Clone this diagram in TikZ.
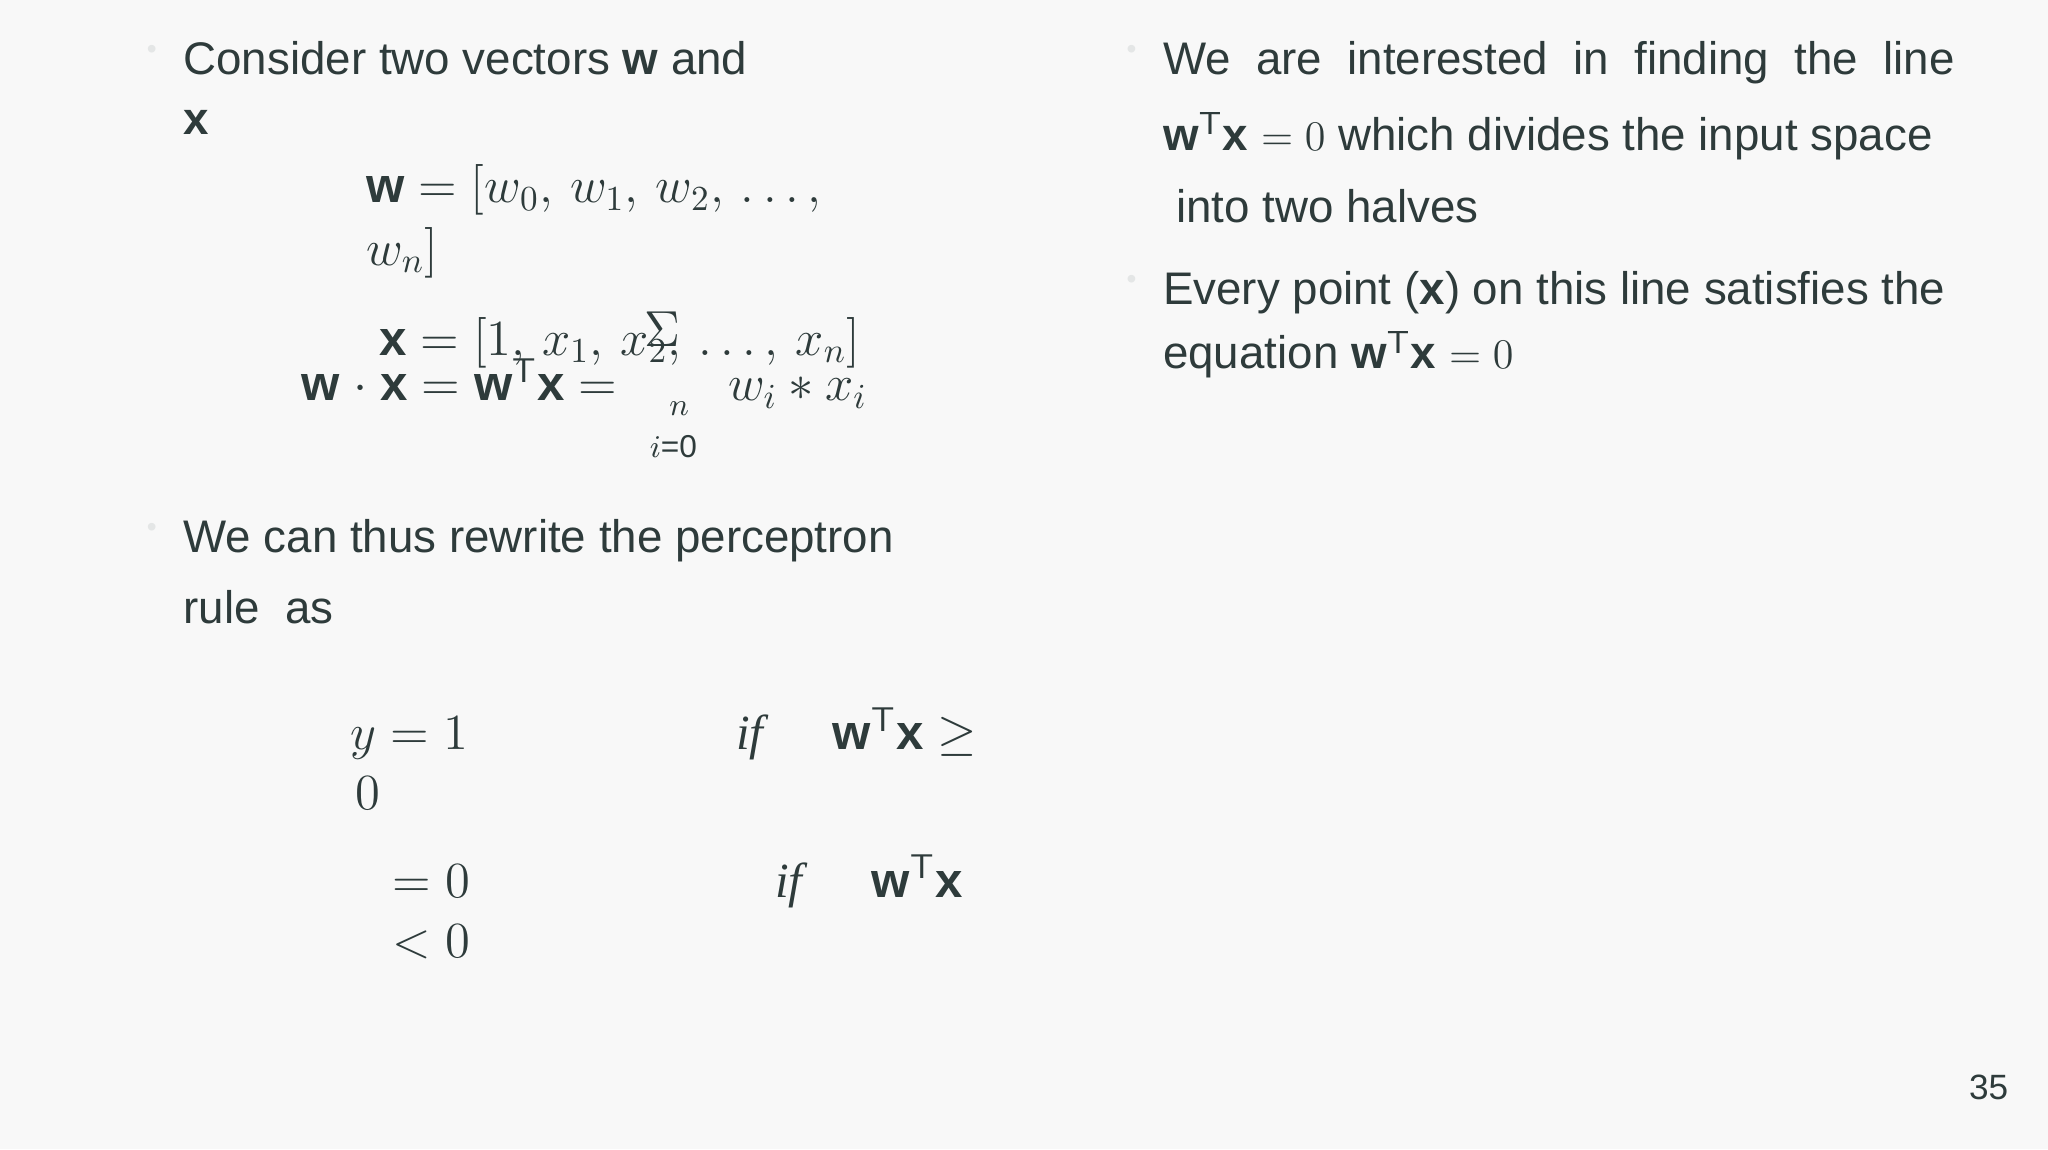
\documentclass[tikz,border=0pt]{standalone}
\usepackage{fontspec}
\setmainfont{Liberation Sans}
\newfontfamily\serifit{Liberation Serif}
\usepackage{amsmath}
\definecolor{bg}{HTML}{F8F8F8}
\definecolor{tx}{HTML}{2E3B3B}
\definecolor{bul}{HTML}{E4E6E6}
\begin{document}
\begin{tikzpicture}[x=0.01306cm,y=-0.01306cm,
  t/.style={anchor=base west,inner sep=0,text=tx,font=\fontsize{13}{15}\selectfont},
  m/.style={anchor=base west,inner sep=0,text=tx,font=\fontsize{14}{16}\selectfont},
  sm/.style={anchor=base west,inner sep=0,text=tx,font=\fontsize{9}{11}\selectfont},
  bl/.style={anchor=base west,inner sep=0,text=bul,font=\fontsize{8}{9}\selectfont}]
\fill[bg] (0,0) rectangle (1568,880);
\useasboundingbox (0,0) rectangle (1568,880);
\newcommand{\bw}{\textbf{w}}
\newcommand{\bx}{\textbf{x}}
\newcommand{\ifword}{{\serifit\itshape if}}
\node[bl] (b1) at (112,45) {•};
\node[t] (l1) at (140,57) {Consider two vectors \bw{} and};
\node[t] (l2) at (140,103) {\bx};
\node[m] (l3) at (280,155) {\bw{} $=[w_0,\,w_1,\,w_2,\,\ldots,$};
\node[m] (l4) at (280,203) {$w_n]$};
\node[m] (l5) at (290,272) {\bx{} $=[1,\,x_1,\,x_2,\,\ldots,\,x_n]$};
\node[m] (l6) at (230,307) {\bw{} $\cdot$ \bx{} $=$ \bw$^{\mathsf{T}}$\bx{} $=$};
\node[m] (sig) at (493,265) {$\Sigma$};
\node[sm] (sn) at (512,318) {$n$};
\node[sm] (si) at (497,350) {$i$=0};
\node[m] (l7) at (557,307) {$w_i \ast x_i$};
\node[bl] (b2) at (112,411) {•};
\node[t] (l8) at (140,423) {We can thus rewrite the perceptron};
\node[t] (l9) at (140,477) {rule\ \ as};
\node[m] (r1a) at (268,574) {$y=1$};
\node[m] (r1b) at (563,574) {\ifword};
\node[m] (r1c) at (637,574) {\bw$^{\mathsf{T}}$\bx{} $\geq$};
\node[m] (r1d) at (272,620) {$0$};
\node[m] (r2a) at (300,687) {$=0$};
\node[m] (r2b) at (593,687) {\ifword};
\node[m] (r2c) at (667,687) {\bw$^{\mathsf{T}}$\bx};
\node[m] (r2d) at (300,733) {$<0$};
\node[bl] (b3) at (862,45) {•};
\node[t] (q1) at (890,57) {We\ \ are\ \ interested\ \ in\ \ finding\ \ the\ \ line};
\node[t] (q2) at (890,115) {\bw$^{\mathsf{T}}$\bx{} $=0$ which divides the input space};
\node[t] (q3) at (900,170) {into two halves};
\node[bl] (b4) at (862,221) {•};
\node[t] (q4) at (890,233) {Every point (\bx) on this line satisfies the};
\node[t] (q5) at (890,282) {equation \bw$^{\mathsf{T}}$\bx{} $=0$};
\node[anchor=base west,inner sep=0,text=tx,font=\fontsize{10}{12}\selectfont] (pg) at (1507,842) {35};
\end{tikzpicture}
\end{document}
